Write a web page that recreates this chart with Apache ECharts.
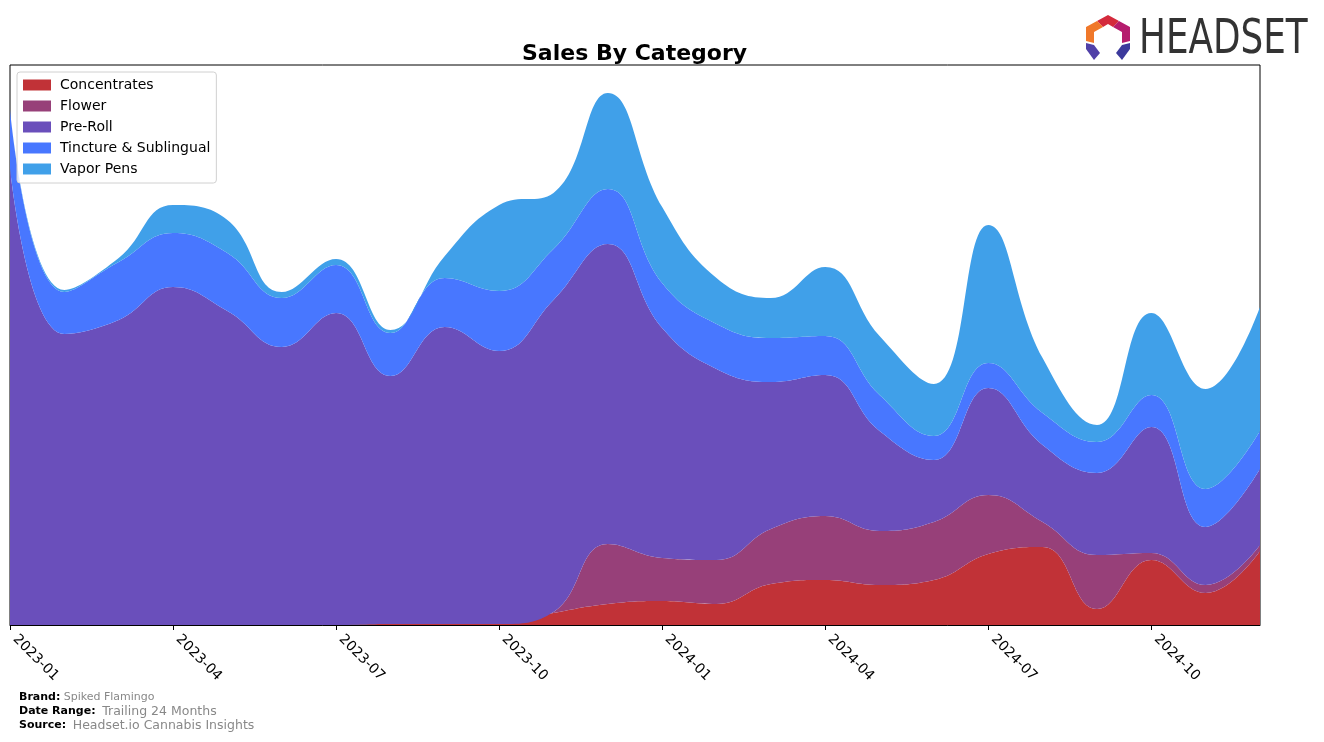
<!DOCTYPE html>
<html><head><meta charset="utf-8">
<script src="https://cdn.jsdelivr.net/npm/echarts@6/dist/echarts.min.js"></script>
<style>html,body{margin:0;padding:0;background:#fff}#c{width:1324px;height:742px}</style>
</head><body><div id="c"></div>
<script>
const months = ["2023-01","2023-02","2023-03","2023-04","2023-05","2023-06","2023-07","2023-08","2023-09","2023-10","2023-11","2023-12",
"2024-01","2024-02","2024-03","2024-04","2024-05","2024-06","2024-07","2024-08","2024-09","2024-10","2024-11","2024-12"];
const seriesNames = ["Concentrates","Flower","Pre-Roll","Tincture & Sublingual","Vapor Pens"];
const concentrates = [0,0,0,0,0,0,0,1,1,1,12,21,24,21,41,45,40,45,71,78,16,65,32,74];
const flower       = [0,0,0,0,0,0,0,0,0,0,1,60,43,44,55,64,54,58,59,25,54,7,8,6];
const preRoll      = [457,291,305,338,314,278,312,248,297,273,312,300,230,191,147,141,100,62,107,77,82,126,58,76];
const tincture     = [58,42,58,54,58,49,48,43,49,60,51,55,45,45,44,39,36,24,25,32,31,32,38,38];
const vaporPens    = [0,2,4,28,33,6,6,3,22,86,56,96,76,46,40,69,59,52,138,55,17,82,100,124];
const colors = ["#c13237","#974079","#6a4fbb","#4877ff","#40a0e9"];
const values = [concentrates, flower, preRoll, tincture, vaporPens];

const chart = echarts.init(document.getElementById('c'), null, {renderer:'canvas'});
const series = seriesNames.map((n,i)=>({
  name:n, type:'line', stack:'total', smooth:0.45, symbol:'none',
  lineStyle:{width:0}, areaStyle:{color:colors[i], opacity:1}, itemStyle:{color:colors[i]},
  data: values[i], z: 2
}));
const FONT = "DejaVu Sans";
chart.setOption({
  animation:false,
  textStyle:{fontFamily:FONT},
  title:{text:"Sales By Category", left:517, top:38,
    textStyle:{fontFamily:FONT, fontSize:22, fontWeight:'bold', color:'#000'}},
  grid:{left:10, top:65, right:64, bottom:117, show:true, borderColor:'#000', borderWidth:1, backgroundColor:'transparent', containLabel:false},
  legend:{orient:'vertical', left:17, top:72, data:seriesNames, icon:'rect', itemWidth:28, itemHeight:11, itemGap:7,
    padding:[6,6,7,6], backgroundColor:'rgba(255,255,255,0.8)', borderColor:'#d0d0d0', borderWidth:1, borderRadius:3,
    textStyle:{fontFamily:FONT, fontSize:14, color:'#000', padding:[0,0,0,4]}},
  xAxis:{type:'category', data:months, boundaryGap:false,
    axisLine:{show:true, lineStyle:{color:'#000', width:1}},
    axisTick:{show:true, interval:2, length:5, lineStyle:{color:'#000'}},
    axisLabel:{interval:2, rotate:-45, fontFamily:FONT, fontSize:14, color:'#000', margin:17, align:'left', verticalAlign:'bottom'},
    splitLine:{show:false}, z:10},
  yAxis:{type:'value', min:0, max:560, show:false},
  series: series,
  graphic:[
    {type:'text', left:19, top:691, style:{text:'{b|Brand:} {v|Spiked Flamingo}', rich:{b:{fontFamily:FONT,fontSize:11,fontWeight:'bold',fill:'#000'}, v:{fontFamily:FONT,fontSize:11,fill:'#888'}}}},
    {type:'text', left:19, top:705, style:{text:'{b|Date Range:}  {v|Trailing 24 Months}', rich:{b:{fontFamily:FONT,fontSize:11,fontWeight:'bold',fill:'#000'}, v:{fontFamily:FONT,fontSize:12.5,fill:'#888'}}}},
    {type:'text', left:19, top:719, style:{text:'{b|Source:}  {v|Headset.io Cannabis Insights}', rich:{b:{fontFamily:FONT,fontSize:11,fontWeight:'bold',fill:'#000'}, v:{fontFamily:FONT,fontSize:12.5,fill:'#888'}}}},
    {type:'text', left:1139, top:17, scaleX:0.745, originX:1139, style:{text:'HEADSET', fontFamily:'DejaVu Sans', fontSize:48, fill:'#333'}},
    {type:'group', left:1086, top:15, children:[
      {type:'polygon', shape:{points:[[11,6],[22,0],[33,6],[27,12],[22,9],[17,12]]}, style:{fill:'#d42a3c'}},
      {type:'polygon', shape:{points:[[33,6],[44,12],[44,26],[36,28],[36,17],[27,12]]}, style:{fill:'#b51c6e'}},
      {type:'polygon', shape:{points:[[11,6],[0,12],[0,26],[8,28],[8,17],[17,12]]}, style:{fill:'#f0782a'}},
      {type:'polygon', shape:{points:[[0,28],[8,30],[14,38],[8,45],[0,34]]}, style:{fill:'#5040a8'}},
      {type:'polygon', shape:{points:[[44,28],[36,30],[30,38],[36,45],[44,34]]}, style:{fill:'#3c3a9c'}}
    ]}
  ]
});
</script></body></html>
